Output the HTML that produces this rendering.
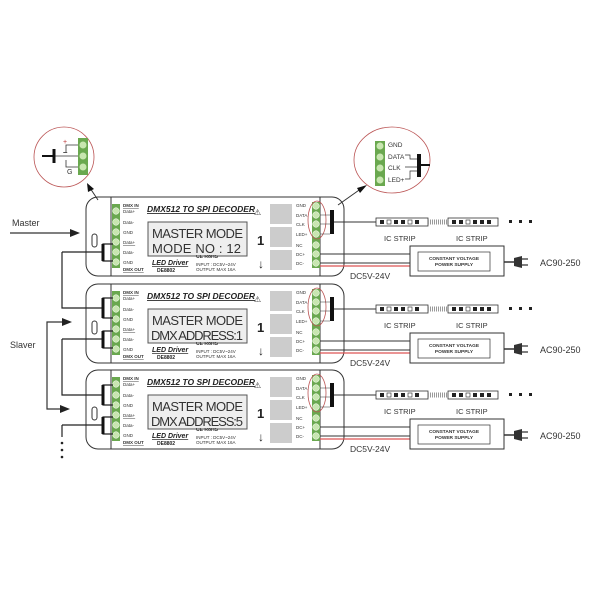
<!DOCTYPE html><html><head><style>body{margin:0;background:#fff}svg{display:block}text{font-family:"Liberation Sans",sans-serif}</style></head><body>
<svg width="600" height="600" viewBox="0 0 600 600" xmlns="http://www.w3.org/2000/svg">
<defs>
<g id="dev">
<rect x="86" y="197" width="258" height="79" rx="12" fill="#fff" stroke="#333" stroke-width="1"/>
<line x1="111" y1="197" x2="111" y2="276" stroke="#333"/>
<line x1="320" y1="197" x2="320" y2="276" stroke="#333"/>
<rect x="92" y="234" width="5" height="13" rx="2.5" fill="none" stroke="#333"/>
<rect x="112" y="204" width="8" height="64" fill="#6aa84f"/>
<g fill="#c8e6b0" stroke="#fff" stroke-width=".5"><circle cx="116" cy="211" r="3.3"/><circle cx="116" cy="222" r="3.3"/><circle cx="116" cy="232" r="3.3"/><circle cx="116" cy="242" r="3.3"/><circle cx="116" cy="252" r="3.3"/><circle cx="116" cy="262" r="3.3"/></g>
<g font-size="4.5" fill="#333"><text x="123" y="207" font-weight="bold" text-decoration="underline">DMX IN</text><text x="123" y="213">Data+</text><text x="123" y="224">Data-</text><text x="123" y="234">GND</text><text x="123" y="244" text-decoration="underline">Data+</text><text x="123" y="254">Data-</text><text x="123" y="264">GND</text><text x="123" y="271" font-weight="bold" text-decoration="underline">DMX OUT</text></g>
<text x="147" y="212" font-size="8.5" font-weight="bold" font-style="italic" text-decoration="underline" fill="#222">DMX512 TO SPI DECODER</text>
<text x="254" y="215" font-size="8" fill="#333">⚠</text>
<rect x="148" y="222" width="99" height="34" fill="#eee" stroke="#555"/>
<text x="152" y="238" font-size="13" fill="#333" textLength="91" lengthAdjust="spacing">MASTER  MODE</text>
<rect x="270" y="204" width="22" height="20" fill="#ccc"/><rect x="270" y="227" width="22" height="20" fill="#ccc"/><rect x="270" y="250" width="22" height="20" fill="#ccc"/>
<text x="257" y="245" font-size="13" font-weight="bold" fill="#222">1</text>
<text x="258" y="268" font-size="12" font-weight="bold" fill="#222">↓</text>
<text x="152" y="265" font-size="7" font-weight="bold" font-style="italic" text-decoration="underline" fill="#222">LED Driver</text>
<text x="157" y="272" font-size="5" font-weight="bold" fill="#222">DE8802</text>
<text x="196" y="258" font-size="5" font-weight="bold" fill="#333">CE RoHS</text>
<text x="196" y="266" font-size="4.5" fill="#333">INPUT :  DC5V~24V</text>
<text x="196" y="271" font-size="4.5" fill="#333">OUTPUT: MAX 16A</text>
<rect x="312" y="202" width="8" height="66" fill="#6aa84f"/>
<g fill="#c8e6b0" stroke="#fff" stroke-width=".5"><circle cx="316" cy="206" r="3.3"/><circle cx="316" cy="215" r="3.3"/><circle cx="316" cy="224" r="3.3"/><circle cx="316" cy="234" r="3.3"/><circle cx="316" cy="245" r="3.3"/><circle cx="316" cy="254" r="3.3"/><circle cx="316" cy="263" r="3.3"/></g>
<g font-size="4.5" fill="#333"><text x="296" y="207">GND</text><text x="296" y="217">DATA</text><text x="296" y="226">CLK</text><text x="296" y="236">LED+</text><text x="296" y="247">NC</text><text x="296" y="256">DC+</text><text x="296" y="265">DC-</text></g>
<ellipse cx="317" cy="220" rx="9" ry="19" fill="none" stroke="#b55" stroke-width=".8"/>
<rect x="330" y="210" width="4" height="24" fill="#111"/>
<path d="M320 215H330M320 224H330M320 234H330" stroke="#333" stroke-width=".6"/>
<line x1="334" y1="222" x2="376" y2="222" stroke="#333"/>
<rect x="376" y="218" width="52" height="8" fill="#fff" stroke="#333" stroke-width=".8"/>
<g fill="#222"><rect x="380" y="220" width="4" height="4"/><rect x="387" y="220" width="4" height="4" fill="none" stroke="#222" stroke-width=".6"/><rect x="394" y="220" width="4" height="4"/><rect x="401" y="220" width="4" height="4"/><rect x="408" y="220" width="4" height="4" fill="none" stroke="#222" stroke-width=".6"/><rect x="415" y="220" width="4" height="4"/></g>
<line x1="428" y1="222" x2="448" y2="222" stroke="#999" stroke-width="5" stroke-dasharray="1 1"/>
<rect x="448" y="218" width="50" height="8" fill="#fff" stroke="#333" stroke-width=".8"/>
<g fill="#222"><rect x="452" y="220" width="4" height="4"/><rect x="459" y="220" width="4" height="4"/><rect x="466" y="220" width="4" height="4" fill="none" stroke="#222" stroke-width=".6"/><rect x="473" y="220" width="4" height="4"/><rect x="480" y="220" width="4" height="4"/><rect x="487" y="220" width="4" height="4"/></g>
<g fill="#222"><rect x="509" y="220" width="3" height="3"/><rect x="519" y="220" width="3" height="3"/><rect x="529" y="220" width="3" height="3"/></g>
<text x="384" y="241" font-size="7.5" fill="#333">IC STRIP</text><text x="456" y="241" font-size="7.5" fill="#333">IC STRIP</text>
<line x1="320" y1="254" x2="410" y2="254" stroke="#333"/>
<line x1="320" y1="263" x2="410" y2="263" stroke="#333"/>
<line x1="320" y1="266" x2="410" y2="266" stroke="#d55" stroke-width="1.2"/>
<rect x="410" y="246" width="94" height="30" fill="#fff" stroke="#333"/>
<rect x="418" y="252" width="72" height="19" fill="#fff" stroke="#333" stroke-width=".7"/>
<text x="454" y="260" font-size="4.8" font-weight="bold" text-anchor="middle" fill="#333">CONSTANT VOLTAGE</text>
<text x="454" y="266" font-size="4.8" font-weight="bold" text-anchor="middle" fill="#333">POWER SUPPLY</text>
<line x1="504" y1="262" x2="516" y2="262" stroke="#333" stroke-width="1.5"/>
<path d="M514 258L522 256V268L514 266Z" fill="#333"/><path d="M522 259H528M522 265H528" stroke="#333" stroke-width="1.2"/>
<text x="540" y="266" font-size="9" fill="#333">AC90-250</text>
<text x="350" y="279" font-size="8.5" fill="#333">DC5V-24V</text>
<path d="M113 244H103V261H113M103 252H62" stroke="#222" stroke-width="1.2" fill="none"/>
<line x1="103" y1="244" x2="103" y2="261" stroke="#111" stroke-width="3"/>
</g>
</defs>
<use href="#dev"/>
<use href="#dev" transform="translate(0,87)"/>
<use href="#dev" transform="translate(0,173)"/>
<rect x="150" y="240" width="95" height="15" fill="#eee"/>
<text x="152" y="253" font-size="13" fill="#333" textLength="89" lengthAdjust="spacing">MODE NO : 12</text>
<rect x="150" y="327" width="95" height="15" fill="#eee"/>
<text x="151" y="340" font-size="13" fill="#333" textLength="92" lengthAdjust="spacing">DMX ADDRESS:1</text>
<rect x="150" y="413" width="95" height="15" fill="#eee"/>
<text x="151" y="426" font-size="13" fill="#333" textLength="92" lengthAdjust="spacing">DMX ADDRESS:5</text>
<path d="M113 298H103V318H113M103 308H62V252" stroke="#222" stroke-width="1.2" fill="none"/><line x1="103" y1="298" x2="103" y2="318" stroke="#111" stroke-width="3"/>
<path d="M113 385H103V405H113M103 395H62V339" stroke="#222" stroke-width="1.2" fill="none"/><line x1="103" y1="385" x2="103" y2="405" stroke="#111" stroke-width="3"/>
<line x1="62" y1="425" x2="62" y2="437" stroke="#222" stroke-width="1.2"/>
<g fill="#222"><circle cx="62" cy="443" r="1.3"/><circle cx="62" cy="450" r="1.3"/><circle cx="62" cy="457" r="1.3"/></g>
<text x="12" y="226" font-size="9" fill="#333">Master</text>
<line x1="10" y1="233" x2="72" y2="233" stroke="#333" stroke-width="1.2"/><path d="M80 233L70 229V237Z" fill="#222"/>
<text x="10" y="348" font-size="9" fill="#333">Slaver</text>
<path d="M62 322H47V409H62" stroke="#333" stroke-width="1.2" fill="none"/>
<path d="M72 322L62 318V326Z M70 409L60 405V413Z" fill="#222"/>
<circle cx="64" cy="157" r="30" fill="#fff" stroke="#b55" stroke-width=".8"/>
<rect x="78" y="138" width="10" height="37" fill="#6aa84f"/>
<g fill="#c8e6b0"><circle cx="83" cy="145" r="3.5"/><circle cx="83" cy="156" r="3.5"/><circle cx="83" cy="167" r="3.5"/></g>
<path d="M78 145H66V152M78 156H66M78 167H66V160M53 156H66" stroke="#333" stroke-width=".8" fill="none"/>
<line x1="54" y1="149" x2="54" y2="163" stroke="#111" stroke-width="3"/>
<line x1="42" y1="156" x2="54" y2="156" stroke="#111" stroke-width="2"/>
<text x="63" y="144" font-size="7" fill="#b33">+</text><text x="63" y="155" font-size="8" font-weight="bold" fill="#333">–</text><text x="67" y="174" font-size="7" fill="#333">G</text>
<line x1="98" y1="200" x2="90" y2="188" stroke="#333"/><path d="M87 183L94 189L88 192Z" fill="#111"/>
<ellipse cx="392" cy="160" rx="38" ry="33" fill="#fff" stroke="#b55" stroke-width=".8"/>
<rect x="375" y="141" width="10" height="45" fill="#6aa84f"/>
<g fill="#c8e6b0"><circle cx="380" cy="146" r="3.5"/><circle cx="380" cy="157" r="3.5"/><circle cx="380" cy="168" r="3.5"/><circle cx="380" cy="180" r="3.5"/></g>
<g font-size="6.5" fill="#333"><text x="388" y="147">GND</text><text x="388" y="159">DATA</text><text x="388" y="170">CLK</text><text x="388" y="182">LED+</text></g>
<path d="M405 155H410V159H418M405 167H418M405 179H410V171H418" stroke="#333" stroke-width=".7" fill="none"/>
<rect x="417" y="154" width="4" height="23" fill="#111"/><line x1="421" y1="165" x2="430" y2="165" stroke="#111" stroke-width="2"/>
<line x1="338" y1="205" x2="362" y2="188" stroke="#333"/><path d="M367 185L360 193L357 188Z" fill="#111"/>
</svg>
</body></html>
